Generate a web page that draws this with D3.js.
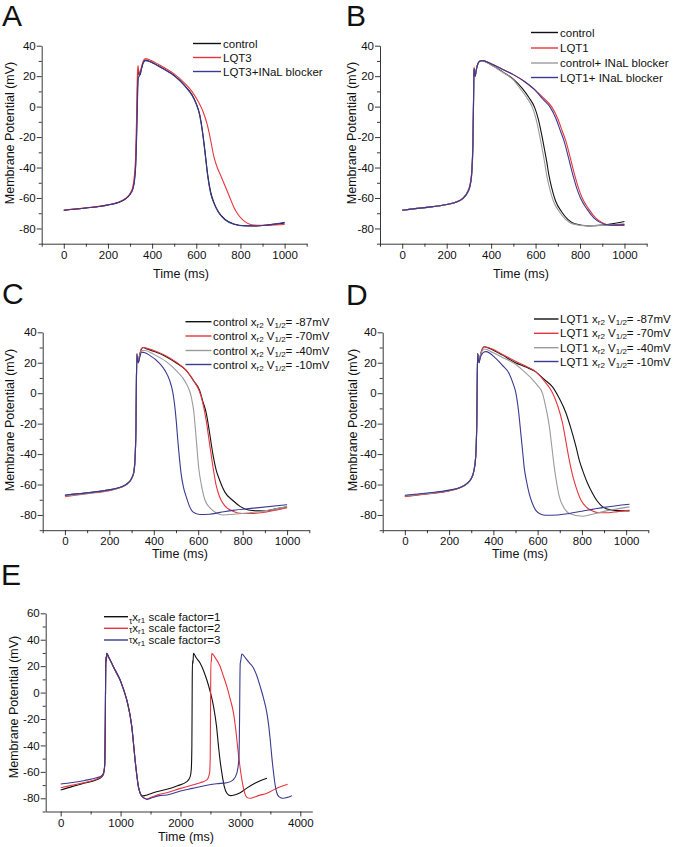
<!DOCTYPE html>
<html><head><meta charset="utf-8">
<script src="https://cdn.jsdelivr.net/npm/d3@7"></script>
<style>body{margin:0;background:#fff} svg{display:block} text{font-family:"Liberation Sans",Arial,sans-serif;fill:#111}</style>
</head><body><svg id="c" width="675" height="847"></svg>
<script>
// ---------------- DATA (time ms, membrane potential mV) ----------------
const xTicks1000 = [0, 200, 400, 600, 800, 1000];
const xMinor1000 = [-100, 100, 300, 500, 700, 900, 1100];
const yTicks40 = [-80, -60, -40, -20, 0, 20, 40];
const yMinor40 = [-90, -70, -50, -30, -10, 10, 30];
const xTicksE = [0, 1000, 2000, 3000, 4000];
const xMinorE = [500, 1500, 2500, 3500];
const yTicksE = [-80, -60, -40, -20, 0, 20, 40, 60];
const yMinorE = [-90, -70, -50, -30, -10, 10, 30, 50];

// Panel A
const A_control = [[0,-68],[100,-66.6],[200,-64.6],[250,-62.8],[280,-60.5],[300,-57.5],[312,-54],[320,-48],[326,-36],[330,-15],[333,8],[336,22],[339,24],[342,21],[346,21],[352,25],[360,29],[370,30.5],[385,30],[400,29],[450,25],[500,20.5],[550,13.5],[580,8],[600,2],[615,-5],[628,-16],[640,-30],[652,-45],[665,-56],[680,-63],[700,-69],[730,-74],[770,-77],[820,-78.2],[870,-78.3],[920,-77.8],[970,-77],[1000,-76.3]];
const A_LQT3 = [[0,-68],[100,-66.5],[200,-64.5],[250,-62.6],[280,-60.2],[300,-57],[312,-53],[320,-45],[326,-30],[330,-5],[333,20],[336,27],[339,23],[343,21],[350,25],[360,30],[370,31.5],[385,31],[400,30],[450,26],[500,21.5],[550,15],[580,10],[610,3],[630,-3],[650,-12],[665,-22],[680,-33],[695,-40],[710,-45],[730,-52],[750,-59],[770,-66],[790,-71],[820,-75.5],[850,-77.6],[890,-78],[940,-77.8],[1000,-77.4]];
const A_LQT3blk = [[0,-68],[100,-66.6],[200,-64.6],[250,-62.8],[280,-60.5],[300,-57.6],[312,-54.5],[320,-49],[326,-38],[330,-20],[334,5],[338,19],[342,20],[346,22],[352,25],[360,28.8],[370,30.2],[385,29.8],[400,28.8],[450,24.8],[500,20.2],[550,13.2],[580,7.5],[600,1.5],[615,-5.5],[628,-17],[640,-31],[652,-46],[665,-57],[680,-63.5],[700,-69.3],[730,-74.3],[770,-77.2],[820,-78.3],[870,-78.4],[920,-77.8],[970,-76.8],[1000,-76]];

// Panel B
const B_control = [[0,-68],[100,-66.3],[200,-64.3],[250,-62.3],[275,-60],[295,-56],[305,-52],[312,-45],[318,-25],[321,5],[323,25],[326,22],[328,20],[333,24],[340,28],[350,30],[360,30.2],[400,27.5],[450,23],[500,18],[540,12],[570,6],[597,-1],[612,-8],[627,-18],[640,-28],[650,-36],[660,-45],[672,-53],[690,-62],[717,-69],[745,-74],[777,-76.9],[838,-78.3],[900,-77.8],[950,-76.8],[1000,-75.4]];
const B_LQT1 = [[0,-68],[100,-66.3],[200,-64.3],[250,-62.2],[275,-59.8],[295,-55.5],[305,-51],[312,-44],[318,-22],[321,8],[323,26],[326,22],[328,20],[333,24],[340,28],[350,30],[360,30.3],[400,28.2],[450,24.5],[500,21],[550,16.5],[597,11],[640,5],[672,0],[700,-8],[720,-16],[735,-22],[750,-30],[762,-37],[778,-46],[792,-53],[810,-60],[838,-67],[870,-73],[898,-76],[943,-78],[1000,-78]];
const B_controlBlk = [[0,-68],[100,-66.3],[200,-64.3],[250,-62.3],[275,-60],[295,-56],[305,-52.5],[312,-46],[318,-27],[321,3],[323,24],[326,21],[328,20],[333,24],[340,28],[350,30],[360,30],[400,27.3],[450,22.7],[500,17.6],[530,12],[560,6],[587,-1],[602,-8],[617,-18],[630,-28],[640,-36],[650,-45],[662,-53],[680,-62],[707,-69],[735,-74],[767,-77],[830,-78.3],[900,-78],[950,-77.5],[1000,-77]];
const B_LQT1Blk = [[0,-68],[100,-66.3],[200,-64.3],[250,-62.3],[275,-60],[295,-56],[305,-52],[312,-45],[318,-25],[321,5],[323,25],[326,21],[328,20],[333,24],[340,28],[350,30],[360,30.2],[400,28.2],[450,24.6],[500,21],[550,16.5],[597,11],[632,5],[664,0],[692,-8],[712,-16],[727,-22],[742,-30],[754,-37],[770,-46],[784,-53],[802,-60],[830,-67],[862,-73],[890,-76],[935,-77.8],[1000,-77.5]];

// Panel C
const C_m87 = [[0,-67],[100,-65.5],[200,-63.5],[250,-61.8],[280,-59.5],[300,-56],[310,-52],[316,-42],[320,-20],[322,10],[324,26],[327,22],[330,20],[336,25],[345,29],[352,30],[370,29],[400,27.5],[456,24],[500,20],[546,15],[580,8],[606,2],[620,-5],[636,-13],[650,-25],[666,-40],[680,-50],[696,-57],[720,-65],[756,-70.5],[790,-74.5],[832,-76.9],[870,-77.3],[907,-77.2],[950,-76],[1000,-74.7]];
const C_m70 = [[0,-68],[100,-66],[200,-64],[250,-62],[280,-59.7],[300,-56.2],[310,-52],[316,-42],[320,-20],[322,10],[324,25],[327,22],[330,20],[336,25],[345,29.5],[352,30],[370,29.5],[400,28],[456,24.5],[500,20.5],[546,15],[580,8],[606,1],[620,-6],[636,-18],[650,-32],[666,-48],[680,-60],[696,-68],[720,-74],[756,-77.5],[800,-79],[850,-79],[907,-78],[950,-76.8],[1000,-75.2]];
const C_m40 = [[0,-67.5],[100,-65.8],[200,-63.8],[250,-61.9],[280,-59.6],[300,-56.1],[310,-52],[316,-42],[320,-20],[322,10],[324,25],[327,22],[330,20],[336,24],[345,28],[360,28],[400,25.5],[456,20.7],[500,15],[546,6.4],[568,-2],[580,-12],[591,-30],[603,-50],[614,-60],[630,-70],[651,-75],[680,-78.5],[711,-80],[760,-79.5],[832,-78.5],[900,-77.3],[1000,-74.5]];
const C_m10 = [[0,-67],[100,-65.5],[200,-63.5],[250,-61.8],[280,-59.5],[300,-56],[310,-52],[316,-42],[320,-20],[322,10],[324,25],[327,22],[330,20],[336,23],[345,27],[360,26.5],[380,25],[426,19.6],[450,15],[471,8.6],[485,1],[493,-6.7],[501,-18],[508,-30.8],[515,-42],[523,-52.8],[534,-62],[546,-68],[560,-74],[576,-78],[606,-79.7],[650,-79.5],[700,-78.3],[756,-77],[850,-75.5],[1000,-73.2]];

// Panel D
const D_m87 = [[0,-67.7],[100,-66],[200,-64],[250,-62],[280,-59.5],[300,-56],[312,-51],[320,-42],[325,-20],[327,5],[329,26],[332,22],[335,20],[340,24],[350,29],[358,30.5],[380,29.5],[441,25],[500,20],[550,17],[592,14],[630,9],[668,4],[700,-4],[728,-13],[750,-23],[773,-35],[790,-45],[804,-51],[825,-59],[849,-66],[870,-71],[894,-74.7],[925,-76.5],[955,-77],[1015,-77.3]];
const D_m70 = [[0,-68],[100,-66.2],[200,-64.2],[250,-62.1],[280,-59.6],[300,-56],[312,-51],[320,-42],[325,-20],[327,5],[329,26],[332,22],[335,20],[340,24],[350,29],[358,30.5],[380,29.8],[441,25.5],[500,21],[550,17.5],[592,14],[630,8],[668,0],[690,-8],[713,-20],[728,-32],[743,-44],[758,-54],[773,-61.5],[795,-70],[819,-74.7],[850,-77.5],[879,-78.5],[920,-78.5],[960,-77.8],[1015,-77]];
const D_m40 = [[0,-67.5],[100,-65.9],[200,-63.9],[250,-62],[280,-59.5],[300,-56],[312,-51],[320,-42],[325,-20],[327,5],[329,26],[332,22],[335,20],[340,24],[350,28],[360,29],[400,26.5],[441,23.5],[500,19],[532,15.2],[570,10],[600,5],[622,-0.1],[638,-10],[653,-22],[664,-35],[675,-48.4],[686,-59],[698,-68],[720,-75.5],[743,-79],[804,-80.8],[860,-79],[940,-76.5],[1015,-74.7]];
const D_m10 = [[0,-67],[100,-65.6],[200,-63.7],[250,-61.9],[280,-59.4],[300,-56],[312,-51],[320,-42],[325,-20],[327,5],[329,26],[332,22],[335,20],[340,23],[350,26],[358,27],[366,27.3],[411,22.9],[440,18.5],[471,13],[490,6],[502,-0.1],[514,-12],[524,-26.4],[532,-38],[539,-48.4],[550,-58],[562,-66],[575,-72],[592,-77],[615,-79.5],[637,-80.2],[690,-80],[743,-79],[800,-77.5],[900,-75],[1015,-73]];

// Panel E
const E_f1 = [[0,-73.7],[200,-71],[400,-68.5],[600,-66],[680,-64],[713,-62],[735,-55],[745,-20],[752,20],[758,27],[763,24],[769,29.7],[800,27],[880,19.6],[940,14],[992,9.5],[1050,2],[1103,-5.6],[1150,-15],[1187,-25.8],[1215,-38],[1242,-51],[1270,-62],[1298,-71.2],[1330,-76.5],[1354,-78.2],[1400,-78],[1500,-76.5],[1600,-75],[1772,-73.2],[1950,-70.5],[2106,-67.4],[2162,-63.6],[2180,-58],[2190,-40],[2196,10],[2200,24],[2208,22],[2217,29.7],[2260,26.5],[2329,22.2],[2390,16],[2440,9.5],[2500,0],[2552,-10.6],[2600,-25],[2635,-40.9],[2665,-53],[2691,-61],[2730,-71],[2774,-76.2],[2830,-78],[2900,-77.5],[2997,-75.8],[3100,-72.5],[3250,-68.5],[3443,-64.9]];
const E_f2 = [[0,-72],[200,-70],[400,-68],[600,-65.5],[680,-63.5],[713,-61.5],[735,-55],[745,-20],[752,20],[758,27],[763,24],[769,29.7],[800,27],[880,19.6],[992,9.5],[1103,-5.6],[1187,-25.8],[1242,-51],[1298,-71.5],[1354,-78.5],[1400,-80],[1437,-80.5],[1500,-79.5],[1650,-77],[1772,-75.8],[2000,-72.5],[2200,-70],[2329,-68.2],[2440,-66.1],[2485,-61],[2496,-50],[2503,0],[2508,24],[2514,23],[2524,29.7],[2570,27],[2663,19.6],[2720,12],[2774,4.5],[2830,-5],[2886,-15.7],[2920,-27],[2953,-40.9],[2990,-55],[3025,-66.1],[3065,-75],[3109,-79.3],[3160,-80],[3220,-79.3],[3300,-78],[3443,-76.2],[3600,-72.5],[3788,-69.4]];
const E_f3 = [[0,-69.2],[200,-68],[400,-66.5],[600,-64.5],[680,-63],[713,-61],[735,-55],[745,-20],[752,20],[758,27],[763,24],[769,29.5],[800,27],[880,19.6],[992,9.5],[1103,-5.6],[1187,-25.8],[1242,-51],[1298,-71.5],[1354,-78.5],[1400,-80],[1437,-80.8],[1500,-80],[1650,-78],[1772,-77.5],[2000,-74.5],[2200,-72.5],[2400,-70.5],[2600,-69],[2774,-68.2],[2880,-66],[2941,-61],[2975,-50],[2986,-20],[2992,10],[2997,22],[3005,24],[3025,29.2],[3080,26.5],[3150,22.5],[3220,18.5],[3280,12],[3331,4.5],[3390,-5],[3443,-15.7],[3475,-26],[3498,-35.9],[3525,-49],[3554,-61],[3580,-70],[3610,-76.2],[3650,-79],[3694,-80],[3760,-79.6],[3833,-78.7],[3861,-78]];

// Legend labels (parts: plain strings, or {sub:""} / {tau:n})
const A_labels = [["control"], ["LQT3"], ["LQT3+INaL blocker"]];
const B_labels = [["control"], ["LQT1"], ["control+ INaL blocker"], ["LQT1+ INaL blocker"]];
const C_labels = [
  ["control x", {sub:"r2"}, " V", {sub:"1/2"}, "= -87mV"],
  ["control x", {sub:"r2"}, " V", {sub:"1/2"}, "= -70mV"],
  ["control x", {sub:"r2"}, " V", {sub:"1/2"}, "= -40mV"],
  ["control x", {sub:"r2"}, " V", {sub:"1/2"}, "= -10mV"]];
const D_labels = [
  ["LQT1 x", {sub:"r2"}, " V", {sub:"1/2"}, "= -87mV"],
  ["LQT1 x", {sub:"r2"}, " V", {sub:"1/2"}, "= -70mV"],
  ["LQT1 x", {sub:"r2"}, " V", {sub:"1/2"}, "= -40mV"],
  ["LQT1 x", {sub:"r2"}, " V", {sub:"1/2"}, "= -10mV"]];
const E_labels = [
  [{tau:3}, "x", {sub:"r1"}, " scale factor=1"],
  [{tau:1}, "x", {sub:"r1"}, " scale factor=2"],
  [{tau:-1.5}, "x", {sub:"r1"}, " scale factor=3"]];

// ---------------- STYLE ----------------
const BLACK = "#111111", RED = "#e8343c", GRAY = "#9b9b9b", BLUE = "#3a3a92";

const panels = [
  {letter:"A", lx:2, ly:26, xDomain:[-100,1100], xRange:[41.7,306.7], yDomain:[-90,40], yRange:[243.7,45.7],
   xTicks:xTicks1000, xMinor:xMinor1000, yTicks:yTicks40, yMinor:yMinor40,
   xTitle:[181,278], yTitle:[14,133],
   series:[[A_control,BLACK],[A_LQT3,RED],[A_LQT3blk,BLUE]],
   legend:{x1:193, x2:221, tx:223, ys:[43.5,57.5,71.5], labels:A_labels, colors:[BLACK,RED,BLUE]}},
  {letter:"B", lx:346, ly:26, xDomain:[-100,1100], xRange:[380,646.7], yDomain:[-90,40], yRange:[243.7,45.7],
   xTicks:xTicks1000, xMinor:xMinor1000, yTicks:yTicks40, yMinor:yMinor40,
   xTitle:[521,278], yTitle:[356,133],
   series:[[B_control,BLACK],[B_LQT1,RED],[B_controlBlk,GRAY],[B_LQT1Blk,BLUE]],
   legend:{x1:531, x2:558, tx:560, ys:[32.5,48,63,77.5], labels:B_labels, colors:[BLACK,RED,GRAY,BLUE]}},
  {letter:"C", lx:2, ly:304, xDomain:[-100,1100], xRange:[42.7,309.3], yDomain:[-90,40], yRange:[530.2,332.3],
   xTicks:xTicks1000, xMinor:xMinor1000, yTicks:yTicks40, yMinor:yMinor40,
   xTitle:[180,558], yTitle:[14,420],
   series:[[C_m87,BLACK],[C_m70,RED],[C_m40,GRAY],[C_m10,BLUE]],
   legend:{x1:185.5, x2:211.5, tx:213, ys:[321.7,336,350.5,364.5], labels:C_labels, colors:[BLACK,RED,GRAY,BLUE]}},
  {letter:"D", lx:346, ly:305, xDomain:[-100,1100], xRange:[382.7,648.3], yDomain:[-90,40], yRange:[530.2,332.3],
   xTicks:xTicks1000, xMinor:xMinor1000, yTicks:yTicks40, yMinor:yMinor40,
   xTitle:[520,558], yTitle:[357,420],
   series:[[D_m87,BLACK],[D_m70,RED],[D_m40,GRAY],[D_m10,BLUE]],
   legend:{x1:534, x2:558.5, tx:560, ys:[319,333.3,347.7,361.5], labels:D_labels, colors:[BLACK,RED,GRAY,BLUE]}},
  {letter:"E", lx:1, ly:585, xDomain:[-250,4200], xRange:[45.7,312.3], yDomain:[-90,60], yRange:[811.5,613.3],
   xTicks:xTicksE, xMinor:xMinorE, yTicks:yTicksE, yMinor:yMinorE,
   xTitle:[186,841], yTitle:[18,707],
   series:[[E_f1,BLACK],[E_f2,RED],[E_f3,BLUE]],
   legend:{x1:104, x2:128, tx:129, ys:[616.7,628.3,640], labels:E_labels, colors:[BLACK,RED,BLUE]}}
];

const svg = d3.select("#c");
const fmt = d => String(d);

panels.forEach(p => {
  const x = d3.scaleLinear().domain(p.xDomain).range(p.xRange);
  const y = d3.scaleLinear().domain(p.yDomain).range(p.yRange);
  const g = svg.append("g");

  g.append("text").attr("x", p.lx).attr("y", p.ly).attr("font-size", 30).text(p.letter);

  g.append("g").attr("transform", `translate(0,${p.yRange[0]})`)
    .call(d3.axisBottom(x).tickValues(p.xTicks).tickSize(5).tickSizeOuter(0).tickPadding(2).tickFormat(fmt));
  g.append("g").attr("transform", `translate(0,${p.yRange[0]})`)
    .call(d3.axisBottom(x).tickValues(p.xMinor.filter(v => v >= p.xDomain[0] && v <= p.xDomain[1])).tickSize(3).tickSizeOuter(0).tickFormat(""))
    .call(s => s.select(".domain").remove());
  g.append("g").attr("transform", `translate(${p.xRange[0]},0)`)
    .call(d3.axisLeft(y).tickValues(p.yTicks).tickSize(5).tickSizeOuter(0).tickPadding(1).tickFormat(fmt));
  g.append("g").attr("transform", `translate(${p.xRange[0]},0)`)
    .call(d3.axisLeft(y).tickValues(p.yMinor).tickSize(3).tickSizeOuter(0).tickFormat(""))
    .call(s => s.select(".domain").remove());
  g.selectAll(".tick text").attr("font-size", 11.5).attr("font-family", '"Liberation Sans",Arial,sans-serif').attr("fill", "#111");
  g.selectAll(".domain, .tick line").attr("stroke", "#222").attr("stroke-width", 0.9);

  g.append("text").attr("x", p.xTitle[0]).attr("y", p.xTitle[1]).attr("text-anchor", "middle")
    .attr("font-size", 12.5).text("Time (ms)");
  g.append("text").attr("transform", `translate(${p.yTitle[0]},${p.yTitle[1]}) rotate(-90)`)
    .attr("text-anchor", "middle").attr("font-size", 12.5).text("Membrane Potential (mV)");

  const line = d3.line().x(d => x(d[0])).y(d => y(d[1])).curve(d3.curveMonotoneX);
  p.series.forEach(([data, color]) => {
    g.append("path").datum(data).attr("d", line).attr("fill", "none")
      .attr("stroke", color).attr("stroke-width", 1.1).attr("stroke-linejoin", "round");
  });

  const L = p.legend;
  L.labels.forEach((parts, i) => {
    const yy = L.ys[i];
    g.append("line").attr("x1", L.x1).attr("x2", L.x2).attr("y1", yy).attr("y2", yy)
      .attr("stroke", L.colors[i]).attr("stroke-width", 1.4);
    const t = g.append("text").attr("x", L.tx).attr("y", yy + 4).attr("font-size", 11.5);
    let shift = 0;
    parts.forEach(part => {
      if (typeof part === "string") {
        t.append("tspan").attr("dy", -shift).text(part); shift = 0;
      } else if (part.sub !== undefined) {
        t.append("tspan").attr("dy", 2 - shift).attr("font-size", 8).text(part.sub); shift = 2;
      } else if (part.tau !== undefined) {
        t.append("tspan").attr("dy", part.tau - shift).attr("font-size", 8.5).text("τ"); shift = part.tau;
      }
    });
  });
});
</script></body></html>
